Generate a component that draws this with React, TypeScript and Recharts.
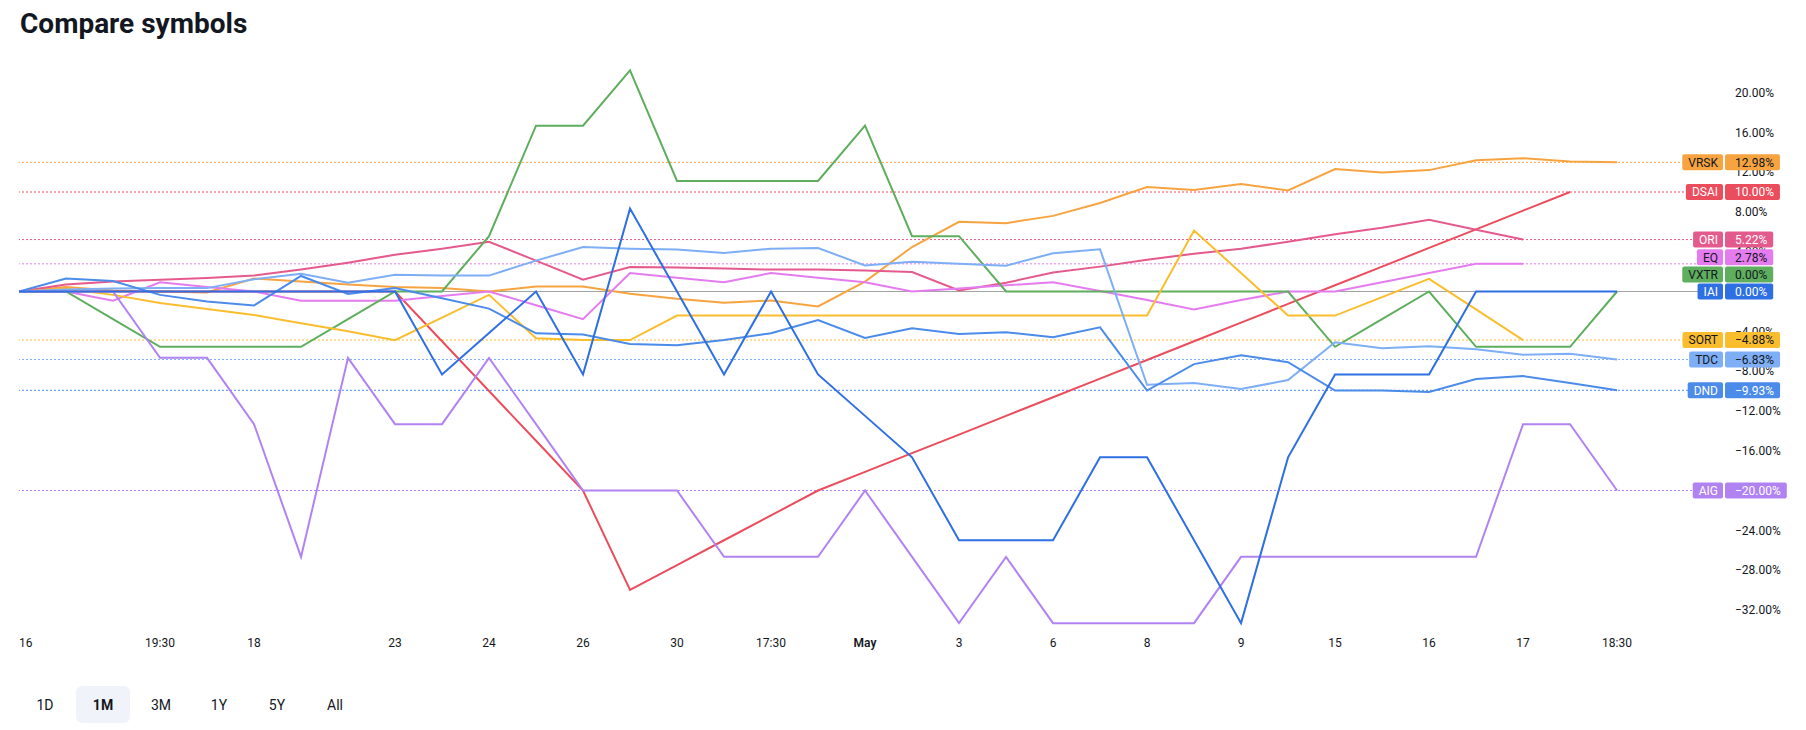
import React from 'react';
import { LineChart, Line, XAxis, YAxis, ReferenceLine } from 'recharts';

// ---------- data ----------
const SERIES_NAMES = ['VRSK', 'DSAI', 'ORI', 'EQ', 'VXTR', 'IAI', 'SORT', 'TDC', 'DND', 'AIG'];

const VRSK = [0, 0.44, 0.1, 0, -0.1, 1.3, 1.0, 0.7, 0.44, 0.34, 0, 0.5, 0.5, -0.23, -0.74, -1.14, -0.9, -1.5, 1.0, 4.47, 7.0, 6.87, 7.6, 8.9, 10.5, 10.2, 10.8, 10.15, 12.3, 11.96, 12.2, 13.2, 13.4, 13.07, 12.98];
const DSAI = [0, 0, 0, 0, 0, 0, 0, 0, 0, -5, -10, -15, -20, -30, -27.5, -25, -22.5, -20, -18.13, -16.25, -14.38, -12.5, -10.63, -8.75, -6.88, -5, -3.13, -1.25, 0.63, 2.5, 4.38, 6.25, 8.13, 10.0, null];
const ORI = [0, 0.7, 1.0, 1.17, 1.36, 1.6, 2.2, 2.9, 3.7, 4.3, 5.0, 3.1, 1.18, 2.45, 2.4, 2.3, 2.2, 2.2, 2.1, 1.95, 0.1, 0.88, 1.9, 2.5, 3.2, 3.8, 4.3, 5.0, 5.76, 6.4, 7.2, 6.2, 5.22, null, null];
const EQ = [0, 0, -0.93, 0.93, 0.46, 0, -0.93, -0.93, -0.93, -0.46, 0, -1.38, -2.78, 1.85, 1.39, 0.93, 1.85, 1.39, 0.93, 0, 0.31, 0.62, 0.93, 0.05, -0.85, -1.8, -0.85, 0, 0, 0.93, 1.85, 2.78, 2.78, null, null];
const VXTR = [0, 0, -2.78, -5.56, -5.56, -5.56, -5.56, -2.78, 0, 0, 5.56, 16.67, 16.67, 22.22, 11.11, 11.11, 11.11, 11.11, 16.67, 5.56, 5.56, 0, 0, 0, 0, 0, 0, 0, -5.56, -2.78, 0, -5.56, -5.56, -5.56, 0];
const IAI = [0, 0, 0, 0, 0, 0, 0, 0, 0, -8.33, -4.17, 0, -8.33, 8.33, 0, -8.33, 0, -8.33, -12.5, -16.67, -25, -25, -25, -16.67, -16.67, -25, -33.33, -16.67, -8.33, -8.33, -8.33, 0, 0, 0, 0];
const SORT = [0, 0.27, -0.34, -1.15, -1.75, -2.35, -3.2, -4.0, -4.9, -2.62, -0.34, -4.7, -4.88, -4.88, -2.42, -2.42, -2.42, -2.42, -2.42, -2.42, -2.42, -2.42, -2.42, -2.42, -2.42, 6.13, 1.86, -2.42, -2.42, -0.57, 1.27, -1.8, -4.88, null, null];
const TDC = [0, 0.2, 0.3, 0.34, 0.34, 1.24, 1.78, 0.87, 1.68, 1.6, 1.6, 3.1, 4.47, 4.3, 4.23, 3.86, 4.3, 4.37, 2.62, 3.0, 2.8, 2.6, 3.85, 4.25, -9.38, -9.2, -9.8, -8.9, -5.1, -5.7, -5.5, -5.8, -6.36, -6.26, -6.83];
const DND = [0, 1.3, 1.05, -0.34, -1.0, -1.41, 1.56, -0.25, 0.36, -0.67, -1.72, -4.2, -4.33, -5.27, -5.4, -4.87, -4.2, -2.86, -4.67, -3.7, -4.27, -4.1, -4.6, -3.6, -9.95, -7.3, -6.4, -7.1, -9.95, -9.95, -10.1, -8.8, -8.5, -9.2, -9.93];
const AIG = [0, 0, 0, -6.67, -6.67, -13.33, -26.67, -6.67, -13.33, -13.33, -6.67, -13.33, -20, -20, -20, -26.67, -26.67, -26.67, -20, -26.67, -33.33, -26.67, -33.33, -33.33, -33.33, -33.33, -26.67, -26.67, -26.67, -26.67, -26.67, -26.67, -13.33, -13.33, -20];

const X_TICK_INDEX = [0, 3, 5, 8, 10, 12, 14, 16, 18, 20, 22, 24, 26, 28, 30, 32, 34];
const X_TICK_LABELS = ['16', '19:30', '18', '23', '24', '26', '30', '17:30', 'May', '3', '6', '8', '9', '15', '16', '17', '18:30'];
const Y_TICKS = [20, 16, 12, 8, 4, 0, -4, -8, -12, -16, -20, -24, -28, -32];
const RANGES = ['1D', '1M', '3M', '1Y', '5Y', 'All'];
const SELECTED_RANGE = '1M';

// ---------- styles ----------
const SERIES_VALUES: Record<string, (number | null)[]> = { VRSK, DSAI, ORI, EQ, VXTR, IAI, SORT, TDC, DND, AIG };
const COLORS: Record<string, string> = {
  VRSK: '#F7A440', DSAI: '#EB4D5C', ORI: '#E55A8C', EQ: '#E47CF0', VXTR: '#5EAE5E',
  IAI: '#2E6FE3', SORT: '#F9BD2E', TDC: '#7EAEF5', DND: '#4B8BEA', AIG: '#B183F2',
};
const TAG_TEXT: Record<string, string> = {
  VRSK: '#131722', DSAI: '#ffffff', ORI: '#ffffff', EQ: '#131722', VXTR: '#131722',
  IAI: '#ffffff', SORT: '#131722', TDC: '#131722', DND: '#ffffff', AIG: '#ffffff',
};
const DRAW_ORDER = ['VRSK', 'DSAI', 'ORI', 'EQ', 'VXTR', 'SORT', 'TDC', 'DND', 'AIG', 'IAI'];
const LABEL_GAP = 1.72; // minimum vertical distance between tags, in % units
const X_MAX = 36.19;
const FONT = 'Roboto, "Noto Sans", sans-serif';

const chartData = VRSK.map((_, i) => {
  const row: Record<string, number | null> = { i };
  SERIES_NAMES.forEach((n) => { row[n] = SERIES_VALUES[n][i]; });
  return row;
});

const lastValue = (arr: (number | null)[]) => {
  for (let k = arr.length - 1; k >= 0; k--) if (arr[k] !== null) return arr[k] as number;
  return 0;
};

const fmtPct = (v: number) => (v < 0 ? '\u2212' : '') + Math.abs(v).toFixed(2) + '%';

// tag positions (collision avoidance, bottom-up)
const tagItems = SERIES_NAMES.map((n, k) => ({ name: n, value: lastValue(SERIES_VALUES[n]), k }));
const ascending = [...tagItems].sort((a, b) => a.value - b.value || (a.name === 'IAI' ? -1 : b.name === 'IAI' ? 1 : a.k - b.k));
let prevPos = -Infinity;
const tagPos: Record<string, number> = {};
ascending.forEach((t) => {
  const p = Math.max(t.value, prevPos + LABEL_GAP);
  tagPos[t.name] = p;
  prevPos = p;
});

let measureCtx: CanvasRenderingContext2D | null = null;
const measure = (text: string, font: string) => {
  if (!measureCtx) measureCtx = document.createElement('canvas').getContext('2d');
  if (!measureCtx) return text.length * 7;
  measureCtx.font = font;
  return measureCtx.measureText(text).width;
};

function SeriesTag(props: any) {
  const { viewBox, tagName, tagValue } = props;
  if (!viewBox) return null;
  const right = viewBox.x + viewBox.width;
  const cy = viewBox.y;
  const font = `12px Roboto`;
  const valText = fmtPct(tagValue);
  const nameW = measure(tagName, font);
  const valW = measure(valText, font);
  const nameRight = right + 3;
  const nameLeft = nameRight - nameW - 11;
  const valLeft = right + 5;
  const valRight = right + 15 + valW + 6;
  const color = COLORS[tagName];
  const tc = TAG_TEXT[tagName];
  return (
    <g>
      <rect x={nameLeft} y={cy - 8} width={nameRight - nameLeft} height={16} rx={2} fill={color} />
      <rect x={valLeft} y={cy - 8} width={valRight - valLeft} height={16} rx={2} fill={color} />
      <text x={nameRight - 5} y={cy} dy="0.36em" textAnchor="end" fontSize={12} fontFamily={FONT} fill={tc}>{tagName}</text>
      <text x={right + 15} y={cy} dy="0.36em" textAnchor="start" fontSize={12} fontFamily={FONT} fill={tc}>{valText}</text>
    </g>
  );
}

function YTickLabel(props: any) {
  const { viewBox, tickValue } = props;
  if (!viewBox) return null;
  const right = viewBox.x + viewBox.width;
  return (
    <text x={right + 15} y={viewBox.y} dy="0.36em" textAnchor="start" fontSize={12} fontFamily={FONT} fill="#131722">
      {fmtPct(tickValue)}
    </text>
  );
}

function XTick(props: any) {
  const { x, y, payload } = props;
  const idx = X_TICK_INDEX.indexOf(payload.value);
  const label = X_TICK_LABELS[idx];
  return (
    <text x={x} y={y} dy="0.36em" textAnchor={idx === 0 ? 'start' : 'middle'} fontSize={12}
      fontFamily={FONT} fill="#131722" fontWeight={label === 'May' ? 600 : 400}>
      {label}
    </text>
  );
}

export default function App() {
  return (
    <div style={{ position: 'absolute', left: 0, top: 0, width: 1806, height: 730, background: '#fff', overflow: 'hidden' }}>
      <div style={{ position: 'absolute', left: 20, top: 9.5, fontFamily: FONT, fontWeight: 700, fontSize: 28, lineHeight: 1, color: '#131722', whiteSpace: 'nowrap' }}>
        Compare symbols
      </div>
      <div style={{ position: 'absolute', left: 0, top: 0 }}>
        <LineChart width={1806} height={730} data={chartData} margin={{ top: 62.65, right: 0, bottom: 70.2, left: 19 }}>
          <XAxis dataKey="i" type="number" domain={[0, X_MAX]} ticks={X_TICK_INDEX} interval={0}
            allowDataOverflow axisLine={false} tickLine={false} tickSize={0} tickMargin={13} height={30} tick={<XTick />} />
          <YAxis orientation="right" type="number" domain={[-34, 23]} ticks={Y_TICKS} interval={0}
            allowDataOverflow axisLine={false} tickLine={false} tick={false} width={86} />
          <ReferenceLine y={0} stroke="#A3A3A3" strokeWidth={1} />
          {SERIES_NAMES.filter((n) => lastValue(SERIES_VALUES[n]) !== 0).map((n) => (
            <ReferenceLine key={'d' + n} y={lastValue(SERIES_VALUES[n])} stroke={COLORS[n]} strokeWidth={1} strokeDasharray="2 2" />
          ))}
          {DRAW_ORDER.map((n) => (
            <Line key={n} type="linear" dataKey={n} stroke={COLORS[n]} strokeWidth={2} dot={false}
              activeDot={false} isAnimationActive={false} connectNulls={false} />
          ))}
          {Y_TICKS.map((v) => (
            <ReferenceLine key={'y' + v} y={v} stroke="none" label={<YTickLabel tickValue={v} />} />
          ))}
          {SERIES_NAMES.map((n) => (
            <ReferenceLine key={'t' + n} y={tagPos[n]} stroke="none"
              label={<SeriesTag tagName={n} tagValue={lastValue(SERIES_VALUES[n])} />} />
          ))}
        </LineChart>
      </div>
      <div style={{ position: 'absolute', left: 18, top: 686, display: 'flex', gap: 4 }}>
        {RANGES.map((r) => (
          <div key={r} style={{
            width: 54, height: 37, borderRadius: 6, display: 'flex', alignItems: 'center', justifyContent: 'center',
            fontFamily: FONT, fontSize: 14, color: '#131722', fontWeight: r === SELECTED_RANGE ? 700 : 400,
            background: r === SELECTED_RANGE ? '#F0F3FA' : 'transparent',
          }}>{r}</div>
        ))}
      </div>
    </div>
  );
}
